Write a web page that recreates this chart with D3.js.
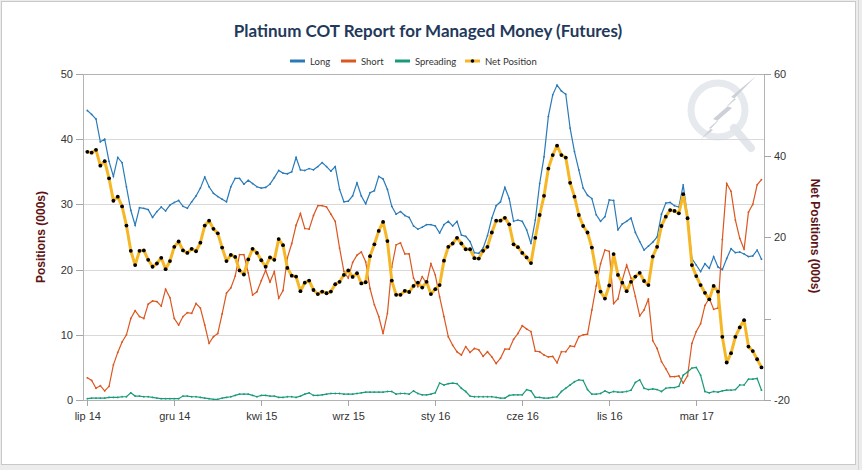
<!DOCTYPE html>
<html lang="pl">
<head>
<meta charset="UTF-8">
<title>Platinum COT Report for Managed Money (Futures)</title>
<script src="https://d3js.org/d3.v7.min.js"></script>
<style>
    body { margin: 0; background: #ececec; }
    svg { display: block; font-family: "Liberation Sans", Arial, sans-serif; }
    .axis path, .axis line { fill: none; stroke: #a6a6a6; shape-rendering: crispEdges; }
    .axis text { fill: #333; font-size: 11px; font-family: "Liberation Sans", Arial, sans-serif; }
</style>
</head>
<body>
<svg width="862" height="470"></svg>
<script>
// weekly COT data, first report 15 Jul 2014
const startWeek = new Date(2014, 6, 15);

const longPos = [
    44.4, 43.8, 43.1, 39.6, 40.0, 36.6, 34.3, 37.2, 36.4, 32.7, 29.1, 26.8, 29.5, 29.4, 29.2, 28.0, 28.9, 29.6, 29.0, 29.9, 30.3, 30.6, 29.7, 29.4, 30.4, 31.3, 32.5,
    34.2, 32.7, 31.7, 31.2, 30.8, 30.4, 32.7, 34.0, 34.0, 33.1, 33.7, 33.2, 32.7, 32.5, 32.6, 33.1, 34.1, 35.2, 34.8, 34.7, 35.0, 37.2, 35.3, 35.2, 35.5, 35.3,
    35.8, 36.4, 35.8, 35.1, 35.8, 32.3, 30.4, 30.5, 31.3, 33.3, 31.3, 30.1, 31.8, 32.1, 34.3, 33.9, 32.3, 29.7, 28.5, 28.9, 28.3, 28.0, 26.7, 26.2, 26.5, 26.9, 26.9,
    26.7, 25.6, 26.9, 27.4, 26.7, 27.4, 25.3, 25.1, 24.3, 22.6, 22.5, 23.3, 25.2, 27.9, 29.8, 30.4, 32.6, 30.9, 27.4, 27.6, 27.4, 26.1, 24.0, 27.6, 33.2, 37.3,
    43.5, 46.8, 48.3, 47.4, 46.9, 41.7, 38.1, 35.3, 32.5, 31.4, 30.9, 28.4, 27.4, 28.1, 30.7, 30.6, 26.1, 27.0, 27.4, 27.9, 25.7, 24.3, 23.0, 23.6, 24.2, 25.0, 28.5,
    30.2, 30.3, 29.8, 29.6, 33.0, 28.1, 21.7, 20.7, 19.7, 20.9, 20.2, 22.0, 20.4, 20.0, 21.7, 23.2, 22.6, 22.7, 22.4, 22.0, 22.1, 23.0, 21.6
];

const shortPos = [
    3.4, 3.0, 1.8, 2.2, 1.4, 2.1, 5.4, 7.3, 8.9, 10.0, 12.5, 13.7, 12.8, 12.5, 14.7, 15.2, 15.1, 14.4, 17.0, 15.7, 12.5, 11.5, 12.8, 13.4, 13.3, 14.8, 14.1,
    11.5, 8.7, 9.7, 10.2, 13.2, 16.4, 17.2, 19.0, 22.3, 22.3, 19.5, 16.1, 16.6, 18.3, 19.9, 18.1, 19.7, 15.6, 16.8, 21.8, 24.0, 26.8, 28.6, 26.3, 26.2, 28.3,
    29.8, 29.8, 29.6, 28.5, 27.4, 23.3, 19.7, 18.7, 21.1, 22.2, 22.7, 21.2, 17.1, 14.6, 12.8, 10.2, 13.3, 20.4, 23.8, 24.1, 22.4, 22.4, 18.7, 17.4, 18.9, 17.9, 20.9,
    19.2, 15.8, 12.8, 9.7, 8.4, 7.4, 6.9, 8.2, 7.3, 7.9, 7.7, 6.7, 7.4, 6.6, 5.6, 6.4, 7.8, 7.8, 9.3, 10.2, 11.4, 10.9, 10.5, 7.5, 7.4, 6.9,
    6.6, 6.7, 5.7, 7.4, 7.4, 8.3, 8.2, 9.7, 10.0, 10.1, 13.8, 17.5, 20.9, 23.0, 22.8, 14.8, 15.5, 18.4, 20.7, 18.7, 15.9, 12.9, 13.8, 15.5, 9.1, 7.9, 5.9,
    4.8, 3.6, 3.6, 3.7, 2.6, 3.7, 8.7, 10.5, 11.7, 14.5, 15.6, 13.9, 14.1, 24.6, 33.2, 32.0, 27.6, 24.8, 23.1, 28.8, 30.0, 33.0, 33.8
];

const spreadPos = [
    0.2, 0.3, 0.3, 0.3, 0.3, 0.4, 0.4, 0.4, 0.5, 0.5, 1.1, 0.6, 0.6, 0.5, 0.5, 0.4, 0.3, 0.2, 0.2, 0.2, 0.2, 0.2, 0.6, 0.6, 0.5, 0.5, 0.4,
    0.3, 0.2, 0.1, 0.1, 0.3, 0.4, 0.5, 0.7, 0.9, 0.9, 0.9, 0.7, 0.5, 0.7, 0.7, 0.6, 0.6, 0.4, 0.4, 0.5, 0.5, 0.4, 0.6, 0.9, 1.1, 0.7,
    0.7, 0.8, 0.9, 1.0, 1.0, 1.0, 0.9, 0.9, 0.9, 1.0, 1.1, 1.2, 1.2, 1.2, 1.2, 1.2, 1.3, 1.3, 0.9, 1.0, 1.0, 0.9, 1.4, 1.0, 0.8, 0.8, 0.9,
    1.1, 2.6, 2.3, 2.5, 2.6, 2.5, 1.8, 1.3, 0.6, 0.5, 0.5, 0.5, 0.5, 0.5, 0.4, 0.3, 0.3, 0.7, 0.8, 0.8, 0.8, 1.6, 1.4, 0.4, 0.4, 0.3,
    0.3, 0.4, 0.5, 1.3, 1.8, 2.3, 2.8, 3.1, 3.0, 1.6, 0.9, 0.9, 1.0, 1.4, 1.1, 1.3, 1.2, 1.2, 1.3, 1.5, 2.7, 3.1, 1.8, 1.6, 1.7, 1.6, 1.3,
    1.8, 1.9, 1.9, 2.1, 3.8, 4.3, 4.9, 5.0, 3.8, 1.3, 1.1, 1.3, 1.2, 1.4, 1.5, 1.5, 1.6, 2.3, 2.3, 3.2, 3.2, 3.3, 1.5
];

const netPos = [
    40.9, 40.7, 41.4, 37.5, 38.6, 34.4, 28.9, 29.9, 27.5, 22.8, 16.6, 13.1, 16.6, 16.7, 14.4, 12.7, 13.5, 14.9, 12.1, 14.1, 17.6, 18.9, 16.7, 16.1, 17.1, 16.5, 18.6,
    22.8, 24.0, 22.0, 20.9, 17.4, 14.1, 15.6, 15.1, 11.8, 10.8, 14.5, 17.1, 16.1, 14.3, 12.7, 15.0, 14.4, 19.5, 18.0, 12.4, 10.5, 10.3, 6.7, 8.8, 9.3, 7.0,
    6.0, 6.6, 6.2, 6.6, 8.4, 9.0, 10.7, 11.8, 10.2, 11.1, 8.6, 8.9, 15.3, 18.2, 21.5, 23.7, 19.0, 9.3, 5.8, 5.8, 6.8, 6.5, 8.0, 8.8, 7.6, 9.0, 6.0,
    7.2, 8.2, 14.2, 17.6, 18.4, 19.8, 18.4, 17.0, 17.0, 14.8, 14.7, 16.6, 17.6, 21.1, 24.0, 24.0, 24.7, 23.1, 18.2, 17.5, 16.1, 15.0, 13.6, 19.8, 25.4, 30.1,
    36.8, 40.1, 42.4, 40.1, 39.5, 33.3, 29.9, 25.4, 22.7, 21.1, 17.4, 11.4, 6.6, 4.9, 8.1, 15.8, 10.7, 8.8, 6.7, 9.0, 10.3, 11.2, 9.2, 8.2, 15.2, 17.6, 22.7,
    25.0, 26.6, 26.4, 25.8, 30.5, 24.6, 13.1, 10.4, 8.2, 6.3, 4.7, 8.0, 6.6, -4.5, -10.8, -8.5, -4.5, -2.2, -0.4, -6.9, -8.0, -10.0, -12.0
];

// x ticks every 20 weeks
const tickWeeks = [0, 20, 40, 60, 80, 100, 120, 140];
const tickLabels = ["lip 14", "gru 14", "kwi 15", "wrz 15", "sty 16", "cze 16", "lis 16", "mar 17"];
const leftTicks = [0, 10, 20, 30, 40, 50];
const rightTicks = [-20, 0, 20, 40, 60];

const weeks = d3.range(longPos.length).map(i => d3.timeDay.offset(startWeek, 7 * i));

const svg = d3.select("svg");
const W = +svg.attr("width"), H = +svg.attr("height");

// frame
svg.append("rect").attr("x", 1.5).attr("y", 1.5).attr("width", 854).attr("height", 463)
    .attr("fill", "#fff").attr("stroke", "#c9c9c9");
svg.append("line").attr("x1", 858.5).attr("x2", 858.5).attr("y1", 0).attr("y2", H)
    .attr("stroke", "#d4d4d4");

const plot = {left: 83, right: 764, top: 74, bottom: 400};

const x = d3.scaleTime()
    .domain([weeks[0], weeks[weeks.length - 1]])
    .range([87.3, 761.5]);
const yL = d3.scaleLinear().domain([0, 50]).range([plot.bottom, plot.top]);
const yR = d3.scaleLinear().domain([-20, 60]).range([plot.bottom, plot.top]);

// watermark (faint logo, top right)
const wm = svg.append("g");
wm.append("circle").attr("cx", 718).attr("cy", 110).attr("r", 27)
    .attr("fill", "none").attr("stroke", "#e6e9ed").attr("stroke-width", 7);
wm.append("path").attr("d", "M734,128 L751,148").attr("stroke", "#e3e6ea")
    .attr("stroke-width", 8).attr("stroke-linecap", "round");
wm.append("path")
    .attr("d", "M756,76 L727,106 L732,108 L709,128 L713,130 L701,139 L718,121 L713,119 L736,99 L731,97 Z")
    .attr("fill", "#cdd1d7");

// grid
svg.append("g").selectAll("line").data(leftTicks.filter(d => d > 0 && d < 50)).join("line")
    .attr("x1", plot.left).attr("x2", plot.right)
    .attr("y1", d => Math.round(yL(d)) + 0.5).attr("y2", d => Math.round(yL(d)) + 0.5)
    .attr("stroke", "#d9d9d9");

svg.append("rect")
    .attr("x", plot.left + 0.5).attr("y", plot.top + 0.5)
    .attr("width", plot.right - plot.left).attr("height", plot.bottom - plot.top)
    .attr("fill", "none").attr("stroke", "#b3b3b3");

// axes
svg.append("g").attr("class", "axis")
    .attr("transform", `translate(0,${plot.bottom})`)
    .call(d3.axisBottom(x).tickValues(tickWeeks.map(i => weeks[i]))
        .tickFormat((d, i) => tickLabels[i]).tickSize(6).tickSizeOuter(0))
    .call(g => g.select(".domain").remove())
    .selectAll("text").attr("dy", "1em");

svg.append("g").attr("class", "axis")
    .attr("transform", `translate(${plot.left},0)`)
    .call(d3.axisLeft(yL).tickValues(leftTicks).tickSize(7).tickPadding(3).tickSizeOuter(0))
    .call(g => g.select(".domain").remove());

svg.append("g").attr("class", "axis")
    .attr("transform", `translate(${plot.right},0)`)
    .call(d3.axisRight(yR).tickValues(rightTicks).tickSize(7).tickPadding(3)
        .tickFormat(d => d === 0 ? "" : d).tickSizeOuter(0))
    .call(g => g.select(".domain").remove());

svg.append("text")
    .attr("transform", `translate(45,237) rotate(-90)`)
    .attr("text-anchor", "middle")
    .attr("font-size", 12).attr("font-weight", "bold").attr("fill", "#5e1414")
    .text("Positions (000s)");

svg.append("text")
    .attr("transform", `translate(811,236) rotate(90)`)
    .attr("text-anchor", "middle")
    .attr("font-size", 12).attr("font-weight", "bold").attr("fill", "#5e1414")
    .text("Net Positions (000s)");

// title
svg.append("text")
    .attr("x", 428).attr("y", 37)
    .attr("text-anchor", "middle")
    .attr("font-family", "Lato, 'Open Sans', sans-serif")
    .attr("font-size", 17).attr("font-weight", "bold").attr("fill", "#23395b")
    .text("Platinum COT Report for Managed Money (Futures)");

// series lines
const series = [
    {name: "Long", values: longPos, color: "#2a7ab9"},
    {name: "Short", values: shortPos, color: "#dc5720"},
    {name: "Spreading", values: spreadPos, color: "#1a9a7a"}
];

const lineL = d3.line().x((d, i) => x(weeks[i])).y(d => yL(d));

series.forEach(s => {
    svg.append("path").datum(s.values)
        .attr("d", lineL).attr("fill", "none")
        .attr("stroke", s.color).attr("stroke-width", 1.2);
    svg.append("g").selectAll("circle").data(s.values).join("circle")
        .attr("cx", (d, i) => x(weeks[i])).attr("cy", d => yL(d))
        .attr("r", 0.9).attr("fill", s.color);
});

const lineR = d3.line().x((d, i) => x(weeks[i])).y(d => yR(d));
svg.append("path").datum(netPos)
    .attr("d", lineR).attr("fill", "none")
    .attr("stroke", "#f6b726").attr("stroke-width", 3).attr("stroke-linejoin", "round");
svg.append("g").selectAll("circle").data(netPos).join("circle")
    .attr("cx", (d, i) => x(weeks[i])).attr("cy", d => yR(d))
    .attr("r", 1.9).attr("fill", "#000");

// legend
const legendItems = [
    {name: "Long", color: "#2a7ab9", x: 290},
    {name: "Short", color: "#dc5720", x: 341},
    {name: "Spreading", color: "#1a9a7a", x: 395},
    {name: "Net Position", color: "#f6b726", x: 465, marker: true}
];
const lg = svg.append("g").attr("font-family", "Lato, sans-serif").attr("font-size", 9.5);
legendItems.forEach(it => {
    lg.append("line").attr("x1", it.x).attr("x2", it.x + 15).attr("y1", 61).attr("y2", 61)
        .attr("stroke", it.color).attr("stroke-width", 3);
    if (it.marker) {
        lg.append("circle").attr("cx", it.x + 7.5).attr("cy", 61).attr("r", 1.8).attr("fill", "#000");
    }
    lg.append("text").attr("x", it.x + 20).attr("y", 64.5).attr("fill", "#333").text(it.name);
});
</script>
</body>
</html>
